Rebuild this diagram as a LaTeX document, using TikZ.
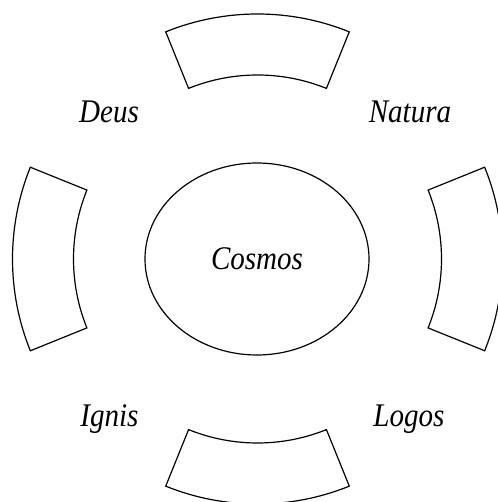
\documentclass[tikz,border=0pt]{standalone}
\usepackage{fontspec}
\setmainfont{Liberation Serif}[FakeStretch=0.88]
\usetikzlibrary{shapes.geometric}
\tikzset{
  sector/.style={draw=black, line width=1.2pt, line join=miter},
  lbl/.style={font=\fontsize{33}{36}\selectfont\itshape, inner sep=0pt, anchor=base},
  core/.style={draw=black, line width=1.2pt, ellipse, minimum width=224pt, minimum height=192pt, inner sep=0pt, font=\fontsize{33}{36}\selectfont\itshape}
}
\begin{document}
\begin{tikzpicture}[x=1pt,y=1pt]
\useasboundingbox (-257.5,-243) rectangle (239.5,259);
% four annular sectors
\foreach \c in {90,180,270,0}{
  \draw[sector] (\c-22:184pt) -- (\c-22:245pt) arc[start angle=\c-22, end angle=\c+22, radius=245pt]
     -- (\c+22:184pt) arc[start angle=\c+22, end angle=\c-22, radius=184pt] -- cycle;
}
\node[core] (cosmos) at (-0.5,0) {Cosmos};
\node[lbl] (deus) at (-148.5,136) {Deus};
\node[lbl] (natura) at (152.5,136) {Natura};
\node[lbl] (ignis) at (-148,-167) {Ignis};
\node[lbl] (logos) at (151.5,-167) {Logos};
\end{tikzpicture}
\end{document}
